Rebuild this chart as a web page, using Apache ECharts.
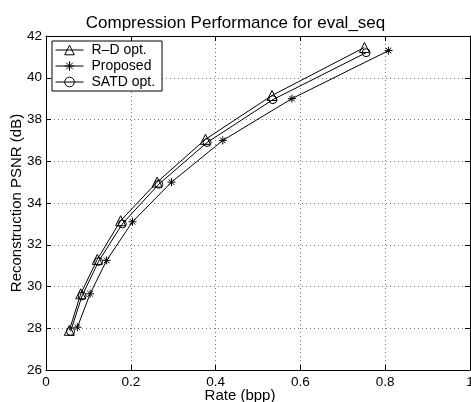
<!DOCTYPE html>
<html>
<head>
<meta charset="utf-8">
<script src="https://cdn.jsdelivr.net/npm/echarts@6/dist/echarts.min.js"></script>
<style>html,body{margin:0;padding:0;background:#fff;}#c{width:471px;height:402px;}</style>
</head>
<body>
<div id="c"></div>
<script>
const chartTitle = 'Compression Performance for eval_seq';
const xAxisName = 'Rate (bpp)';
const yAxisName = 'Reconstruction PSNR (dB)';
const seriesNames = ['R\u2013D opt.', 'Proposed', 'SATD opt.'];

const rdRate = [0.055, 0.082, 0.121, 0.176, 0.262, 0.376, 0.533, 0.751];
const rdPsnr = [27.9, 29.65, 31.3, 33.15, 35.0, 37.05, 39.15, 41.45];
const propRate = [0.074, 0.104, 0.143, 0.204, 0.296, 0.417, 0.580, 0.808];
const propPsnr = [28.05, 29.65, 31.25, 33.1, 35.0, 37.0, 39.0, 41.3];
const satdRate = [0.058, 0.085, 0.124, 0.180, 0.266, 0.380, 0.535, 0.755];
const satdPsnr = [27.85, 29.55, 31.2, 33.0, 34.9, 36.9, 38.95, 41.2];

const xTicks = [0, 0.2, 0.4, 0.6, 0.8, 1];
const yTicks = [26, 28, 30, 32, 34, 36, 38, 40, 42];

function pairs(xs, ys) { return xs.map((x, i) => [x, ys[i]]); }

const FONT = 'Liberation Sans, Arial, Helvetica, sans-serif';
const starPath = 'path://M0,-10L0,10M-10,0L10,0M-7,-7L7,7M-7,7L7,-7';

const chart = echarts.init(document.getElementById('c'), null, {renderer: 'canvas'});

function mk(name, data, symbol, size) {
  return {
    name: name, type: 'line', data: data, symbol: symbol, symbolSize: size,
    showAllSymbol: true, animation: false,
    lineStyle: {color: '#000', width: 1},
    itemStyle: {color: 'rgba(0,0,0,0)', borderColor: '#000', borderWidth: 1},
    emphasis: {disabled: true}
  };
}

const gridLine = {show: true, lineStyle: {color: '#777', type: [1, 3], width: 1}};

chart.setOption({
  backgroundColor: '#fff',
  animation: false,
  title: {
    text: chartTitle, left: 'center', top: 10,
    textStyle: {fontFamily: FONT, fontSize: 17, fontWeight: 'normal', color: '#000'}
  },
  legend: {
    data: seriesNames, orient: 'vertical', left: 52, top: 41,
    itemWidth: 28, itemHeight: 12, itemGap: 2,
    borderColor: '#000', borderWidth: 1, padding: [2, 7, 2, 3],
    backgroundColor: '#fff',
    lineStyle: {width: 1, color: '#000'},
    itemStyle: {borderWidth: 1, borderColor: '#000', color: 'rgba(0,0,0,0)'},
    textStyle: {fontFamily: FONT, fontSize: 14, color: '#000', lineHeight: 14, padding: [0, 0, 0, 3]}
  },
  grid: {left: 46, right: 1, top: 36, bottom: 32, show: false, containLabel: false, outerBoundsMode: 'none'},
  xAxis: [{
    type: 'value', min: 0, max: 1, interval: 0.2,
    name: xAxisName, nameLocation: 'middle', nameGap: 18, nameMoveOverlap: false,
    nameTextStyle: {fontFamily: FONT, fontSize: 15, color: '#000', padding: [0, 36, 0, 0], verticalAlign: 'top'},
    axisLine: {show: true, lineStyle: {color: '#000', width: 1}},
    axisTick: {show: true, inside: true, length: 5, lineStyle: {color: '#000'}},
    axisLabel: {fontFamily: FONT, fontSize: 13.5, color: '#000', margin: 5,
      formatter: v => (xTicks.indexOf(v) >= 0 ? String(v) : '')},
    splitLine: gridLine
  }, {
    type: 'value', min: 0, max: 1, interval: 0.2, position: 'top',
    axisLine: {show: true, onZero: false, lineStyle: {color: '#000', width: 1}},
    axisTick: {show: true, inside: true, length: 5, lineStyle: {color: '#000'}},
    axisLabel: {show: false}, splitLine: {show: false}
  }],
  yAxis: [{
    type: 'value', min: 26, max: 42, interval: 2,
    name: yAxisName, nameLocation: 'middle', nameGap: 22, nameRotate: 90, nameMoveOverlap: false,
    nameTextStyle: {fontFamily: FONT, fontSize: 15, color: '#000'},
    axisLine: {show: true, lineStyle: {color: '#000', width: 1}},
    axisTick: {show: true, inside: true, length: 5, lineStyle: {color: '#000'}},
    axisLabel: {fontFamily: FONT, fontSize: 13.5, color: '#000', margin: 4,
      formatter: v => (yTicks.indexOf(v) >= 0 ? String(v) : '')},
    splitLine: gridLine
  }, {
    type: 'value', min: 26, max: 42, interval: 2, position: 'right',
    axisLine: {show: true, onZero: false, lineStyle: {color: '#000', width: 1}},
    axisTick: {show: true, inside: true, length: 5, lineStyle: {color: '#000'}},
    axisLabel: {show: false}, splitLine: {show: false}
  }],
  series: [
    mk(seriesNames[0], pairs(rdRate, rdPsnr), 'triangle', 10),
    mk(seriesNames[1], pairs(propRate, propPsnr), starPath, 8),
    mk(seriesNames[2], pairs(satdRate, satdPsnr), 'circle', 8)
  ]
});
</script>
</body>
</html>
